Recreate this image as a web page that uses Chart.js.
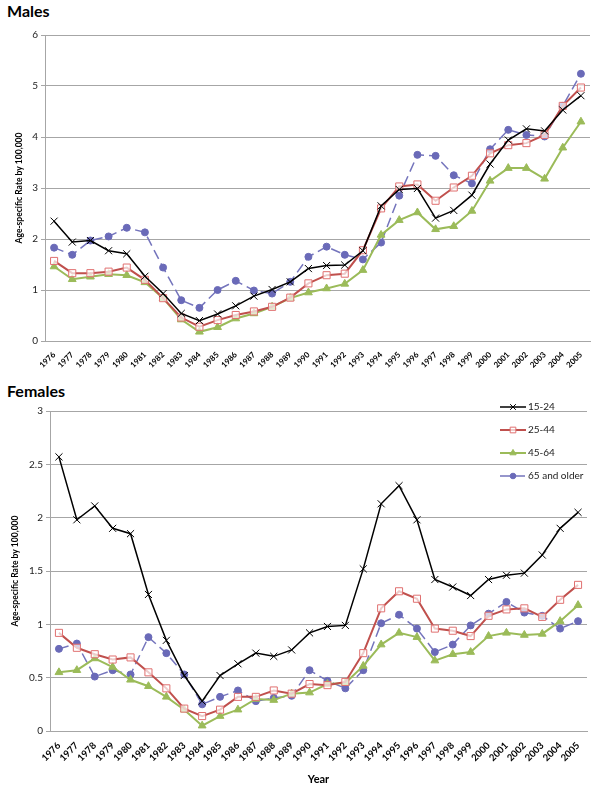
<!DOCTYPE html>
<html lang="en">
<head>
    <meta charset="UTF-8">
    <title>Age-specific rates</title>
    <script src="https://cdn.jsdelivr.net/npm/chart.js"></script>
    <style>
        body { margin: 0; background: #fff; }
        #wrap { position: relative; width: 600px; height: 800px; }
        .ttl { position: absolute; left: 7px; font: bold 16px Lato, "Open Sans", sans-serif; color: #000; }
        canvas { position: absolute; left: 0; }
    </style>
</head>
<body>
<div id="wrap">
    <div class="ttl" style="top: 1px;">Males</div>
    <canvas id="malesChart" style="top: 0;"></canvas>
    <div class="ttl" style="top: 381px;">Females</div>
    <canvas id="femalesChart" style="top: 380px;"></canvas>
</div>

<script>
    const years = ['1976','1977','1978','1979','1980','1981','1982','1983','1984','1985',
        '1986','1987','1988','1989','1990','1991','1992','1993','1994','1995',
        '1996','1997','1998','1999','2000','2001','2002','2003','2004','2005'];
    const seriesNames = ['15-24', '25-44', '45-64', '65 and older'];

    // Males
    const male15 = [2.35,1.94,1.97,1.77,1.71,1.27,0.93,0.54,0.40,0.53,0.69,0.88,1.01,1.16,1.42,1.48,1.49,1.77,2.65,2.97,2.99,2.41,2.56,2.86,3.47,3.94,4.16,4.12,4.53,4.81];
    const male25 = [1.57,1.33,1.33,1.36,1.44,1.20,0.84,0.46,0.28,0.41,0.51,0.58,0.67,0.85,1.13,1.29,1.32,1.78,2.60,3.03,3.07,2.75,3.01,3.24,3.68,3.84,3.88,4.04,4.61,4.97];
    const male45 = [1.46,1.21,1.26,1.31,1.29,1.15,0.84,0.42,0.18,0.27,0.44,0.54,0.67,0.84,0.95,1.03,1.12,1.39,2.08,2.37,2.52,2.19,2.25,2.55,3.14,3.39,3.39,3.18,3.79,4.30];
    const male65 = [1.83,1.69,1.97,2.05,2.22,2.13,1.44,0.80,0.65,1.00,1.18,0.99,0.93,1.16,1.65,1.85,1.69,1.60,1.93,2.85,3.65,3.63,3.25,3.09,3.76,4.14,4.04,4.01,4.61,5.24];

    // Females
    const female15 = [2.57,1.98,2.11,1.90,1.85,1.28,0.85,0.52,0.28,0.52,0.63,0.73,0.70,0.76,0.92,0.98,0.99,1.52,2.13,2.30,1.98,1.42,1.35,1.27,1.42,1.46,1.48,1.65,1.90,2.05];
    const female25 = [0.92,0.78,0.72,0.67,0.69,0.55,0.40,0.21,0.14,0.20,0.32,0.32,0.38,0.35,0.44,0.43,0.46,0.73,1.15,1.31,1.24,0.96,0.94,0.89,1.08,1.14,1.15,1.07,1.23,1.37];
    const female45 = [0.55,0.57,0.68,0.60,0.48,0.42,0.32,0.20,0.05,0.14,0.20,0.30,0.29,0.35,0.36,0.44,0.45,0.61,0.81,0.92,0.88,0.66,0.72,0.74,0.89,0.92,0.90,0.91,1.03,1.18];
    const female65 = [0.77,0.82,0.51,0.57,0.53,0.88,0.73,0.53,0.25,0.32,0.38,0.28,0.31,0.33,0.57,0.47,0.40,0.57,1.01,1.09,0.96,0.74,0.81,0.99,1.10,1.21,1.11,1.08,0.96,1.03];

    const FONT = 'Lato, "Open Sans", sans-serif';
    const GRID = '#A6A6A6';

    const styles = [
        { borderColor: '#000000', borderWidth: 1.5, pointStyle: 'crossRot', pointRadius: 5,
          pointBorderColor: '#000000', pointBackgroundColor: '#000000', pointBorderWidth: 1 },
        { borderColor: '#C0504D', borderWidth: 2, pointStyle: 'rect', pointRadius: 5,
          pointBorderColor: '#E07070', pointBackgroundColor: 'rgba(255,255,255,0.7)', pointBorderWidth: 1 },
        { borderColor: '#9BBB59', borderWidth: 2, pointStyle: 'triangle', pointRadius: 4.5,
          pointBorderColor: '#9BBB59', pointBackgroundColor: '#9BBB59', pointBorderWidth: 1 },
        { borderColor: '#7474BC', borderWidth: 1.5, borderDash: [10, 5], pointStyle: 'circle', pointRadius: 3.5,
          pointBorderColor: '#6A6AB8', pointBackgroundColor: '#6A6AB8', pointBorderWidth: 1 }
    ];

    function makeDatasets(lists) {
        return lists.map((vals, i) => Object.assign({
            label: seriesNames[i],
            data: vals,
            fill: false,
            tension: 0
        }, styles[i]));
    }

    // legend drawn inside the plot, top right (females only)
    const cornerLegend = {
        id: 'cornerLegend',
        afterDraw(chart, args, opts) {
            if (!opts.show) return;
            const ctx = chart.ctx;
            ctx.save();
            chart.data.datasets.forEach((ds, i) => {
                const y = opts.y + i * opts.gap;
                ctx.strokeStyle = ds.borderColor;
                ctx.lineWidth = ds.borderWidth;
                ctx.setLineDash(ds.borderDash || []);
                ctx.beginPath();
                ctx.moveTo(opts.x, y);
                ctx.lineTo(opts.x + 26, y);
                ctx.stroke();
                ctx.setLineDash([]);
                ctx.fillStyle = ds.pointBackgroundColor;
                ctx.strokeStyle = ds.pointBorderColor;
                ctx.lineWidth = 1;
                Chart.helpers.drawPoint(ctx, { pointStyle: ds.pointStyle, radius: ds.pointRadius * 0.8, borderWidth: 1, rotation: 0 }, opts.x + 13, y);
                ctx.fillStyle = '#222';
                ctx.font = '10px ' + FONT;
                ctx.textBaseline = 'middle';
                ctx.textAlign = 'left';
                ctx.fillText(ds.label, opts.x + 28, y);
            });
            ctx.restore();
        }
    };

    function buildChart(id, height, lists, cfg) {
        const canvas = document.getElementById(id);
        canvas.width = 600;
        canvas.height = height;
        canvas.style.width = '600px';
        canvas.style.height = height + 'px';
        return new Chart(canvas.getContext('2d'), {
            type: 'line',
            data: { labels: years, datasets: makeDatasets(lists) },
            plugins: [cornerLegend],
            options: {
                responsive: false,
                animation: false,
                layout: { padding: { top: cfg.top, right: cfg.right, left: cfg.left, bottom: cfg.bottom } },
                plugins: {
                    legend: { display: false },
                    tooltip: { enabled: false },
                    cornerLegend: cfg.legend
                },
                scales: {
                    x: {
                        offset: true,
                        grid: { display: false },
                        border: { display: true, color: GRID },
                        ticks: {
                            color: '#000',
                            autoSkip: false,
                            minRotation: 45,
                            maxRotation: 45,
                            padding: 1,
                            font: { family: FONT, size: cfg.xFont, weight: 'bold' }
                        },
                        title: {
                            display: !!cfg.xTitle,
                            text: cfg.xTitle || '',
                            color: '#000',
                            font: { family: FONT, size: 11, weight: 'bold' },
                            padding: { top: 4, bottom: 0 }
                        },
                        afterFit: s => { s.height = cfg.xHeight; }
                    },
                    y: {
                        min: 0,
                        max: cfg.yMax,
                        grid: { color: GRID, tickLength: 4, lineWidth: 1 },
                        border: { display: true, color: GRID },
                        ticks: {
                            stepSize: cfg.yStep,
                            color: '#222',
                            padding: 3,
                            font: { family: FONT, size: 10 },
                            callback: v => String(v)
                        },
                        title: {
                            display: true,
                            text: 'Age-specific Rate by 100,000',
                            color: '#000',
                            font: { family: FONT, size: 8.5, weight: 'bold' },
                            padding: 0
                        },
                        afterFit: s => { s.width = cfg.yWidth; }
                    }
                }
            }
        });
    }

    buildChart('malesChart', 378, [male15, male25, male45, male65], {
        top: 35, right: 10, left: 14, bottom: 0, xHeight: 37, yWidth: 31, yMax: 6, yStep: 1, xFont: 8,
        legend: { show: false }
    });

    buildChart('femalesChart', 420, [female15, female25, female45, female65], {
        top: 31, right: 13, left: 10, bottom: 14, xHeight: 55, yWidth: 40, yMax: 3, yStep: 0.5, xFont: 9.5,
        xTitle: 'Year',
        legend: { show: true, x: 500, y: 27, gap: 23 }
    });
</script>
</body>
</html>
